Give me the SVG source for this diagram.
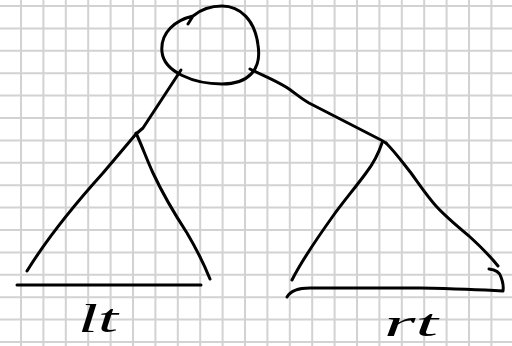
<svg xmlns="http://www.w3.org/2000/svg" width="512" height="346" viewBox="0 0 512 346">
<style>
.grid{stroke:#d2d2d2;stroke-width:2;fill:none}
.ink{stroke:#000;stroke-width:3;fill:none;stroke-linecap:round;stroke-linejoin:round}
.lbl{font-family:"Liberation Serif","DejaVu Serif",serif;font-style:italic;fill:#000}
</style>
<rect width="512" height="346" fill="#fff"/>
<path class="grid" d="M21,0V346M43.4,0V346M65.8,0V346M88.2,0V346M110.6,0V346M133,0V346M155.4,0V346M177.8,0V346M200.2,0V346M222.6,0V346M245,0V346M267.4,0V346M289.8,0V346M312.2,0V346M334.6,0V346M357,0V346M379.4,0V346M401.8,0V346M424.2,0V346M446.6,0V346M469,0V346M491.4,0V346
M0,6H512M0,28.4H512M0,50.8H512M0,73.2H512M0,95.6H512M0,118H512M0,140.4H512M0,162.8H512M0,185.2H512M0,207.6H512M0,230H512M0,252.4H512M0,274.8H512M0,297.2H512M0,319.6H512M0,342H512"/>
<g id="root">
<path class="ink" d="M188,24 L193,16 C176,20 160,32 162,52 C164,72 194,84 222,84 C248,84 262,70 258,45 C255,20 240,6 222,6 C208,6 199,11 193,16"/>
</g>
<g id="connectors">
<path class="ink" d="M181,70 L143,128 L136,134"/>
<path class="ink" d="M250,69 C262,75 275,80 286,87 C294,92 300,98 309,103 L381,140 L386,143"/>
</g>
<g id="lt">
<path class="ink" d="M136,134 C125,147 113,161 103,173 C75,204 48,237 27,271"/>
<path class="ink" d="M136,133 C142,146 147,160 153,173 C160,188 172,210 187,233 C197,250 204,264 210,279"/>
<path class="ink" d="M17,285 L201,285"/>
<text class="lbl" x="78" y="332" font-size="40" textLength="40" lengthAdjust="spacingAndGlyphs">lt</text>
</g>
<g id="rt">
<path class="ink" d="M382,143 C378,155 373,164 366,173 C355,188 343,202 333,216 C318,237 303,258 292,280"/>
<path class="ink" d="M386,143 C396,153 403,163 411,173 C419,184 427,196 436,206 C446,217 457,226 469,236 C480,246 490,256 498,266"/>
<path class="ink" d="M287,297 Q292,288 310,288 L420,288 Q470,289 503,291 Q504,285 501,277 Q499,270 489,269"/>
<text class="lbl" x="384" y="336" font-size="38" textLength="54" lengthAdjust="spacingAndGlyphs">rt</text>
</g>
</svg>
